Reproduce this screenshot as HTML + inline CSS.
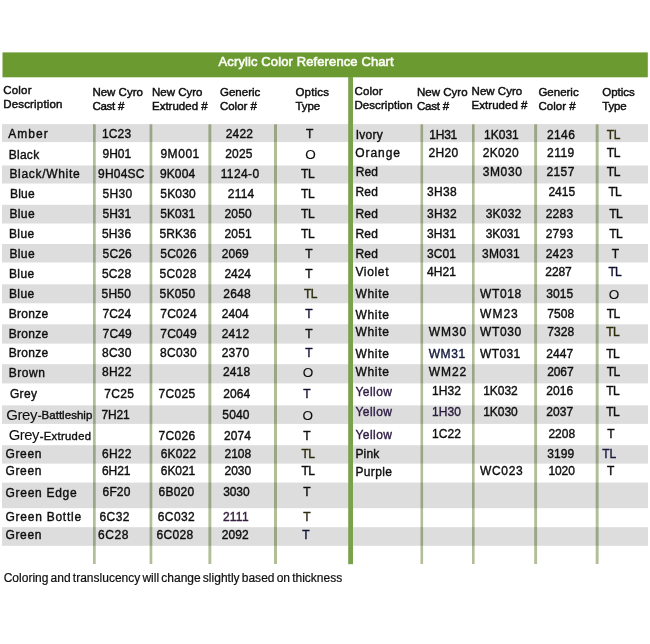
<!DOCTYPE html><html><head><meta charset="utf-8"><title>Acrylic Color Reference Chart</title><style>
html,body{margin:0;padding:0;background:#fff}body{width:650px;height:644px;position:relative;overflow:hidden;font-family:"Liberation Sans", sans-serif;color:#0e0e0e}
.t{position:absolute}.t{white-space:nowrap;line-height:1;margin:0;-webkit-text-stroke:0.38px currentColor}
#w{position:absolute;left:0;top:0;width:650px;height:644px;filter:blur(0.4px)}
</style></head><body><div id="w">
<svg width="650" height="644" viewBox="0 0 650 644" style="position:absolute;left:0;top:0">
<rect x="2.5" y="52.4" width="645.3" height="24.9" fill="#6b9a30"/>
<g fill="#dddddd">
<rect x="2" y="124.1" width="646" height="18.0"/>
<rect x="2" y="165.5" width="646" height="18.0"/>
<rect x="2" y="204.8" width="646" height="18.7"/>
<rect x="2" y="244" width="646" height="18.5"/>
<rect x="2" y="284.3" width="646" height="19.0"/>
<rect x="2" y="324.3" width="646" height="19.3"/>
<rect x="2" y="364.2" width="646" height="19.2"/>
<rect x="2" y="405.4" width="646" height="18.5"/>
<rect x="2" y="445.2" width="646" height="18.4"/>
<rect x="2" y="482.6" width="646" height="25.6"/>
<rect x="2" y="527.2" width="646" height="18.6"/>
</g>
<g fill="#b1be98" style="mix-blend-mode:multiply">
<rect x="93" y="124.3" width="2.7" height="439.7"/>
<rect x="149.6" y="124.3" width="2.7" height="439.7"/>
<rect x="208.4" y="124.3" width="2.9" height="439.7"/>
<rect x="274" y="124.3" width="3.0" height="439.7"/>
<rect x="420.5" y="124.3" width="2.6" height="439.7"/>
<rect x="472" y="124.3" width="2.6" height="439.7"/>
<rect x="534.2" y="124.3" width="2.9" height="439.7"/>
<rect x="595.7" y="124.3" width="2.9" height="439.7"/>
</g>
<rect x="348.2" y="77" width="4.8" height="487.2" fill="#79a24c"/>
</svg>
<div class="t" id="i0" style="top:54.85px;font-size:13px;color:#fbfcf6;-webkit-text-stroke-width:0.6px;letter-spacing:0.11px;left:218.6px;">Acrylic Color Reference Chart</div>
<div class="t" id="i1" style="top:84.98px;font-size:11.5px;-webkit-text-stroke-width:0.45px;letter-spacing:0.20px;left:3.2px;">Color</div>
<div class="t" id="i2" style="top:99.18px;font-size:11.5px;-webkit-text-stroke-width:0.45px;letter-spacing:0.18px;left:3.2px;">Description</div>
<div class="t" id="i3" style="top:86.68px;font-size:11.5px;-webkit-text-stroke-width:0.45px;left:92.4px;">New Cyro</div>
<div class="t" id="i4" style="top:100.78px;font-size:11.5px;-webkit-text-stroke-width:0.45px;letter-spacing:-0.26px;left:92.4px;">Cast #</div>
<div class="t" id="i5" style="top:86.68px;font-size:11.5px;-webkit-text-stroke-width:0.45px;left:152.0px;">New Cyro</div>
<div class="t" id="i6" style="top:100.78px;font-size:11.5px;-webkit-text-stroke-width:0.45px;left:152.0px;">Extruded #</div>
<div class="t" id="i7" style="top:86.68px;font-size:11.5px;-webkit-text-stroke-width:0.45px;left:220.0px;">Generic</div>
<div class="t" id="i8" style="top:100.78px;font-size:11.5px;-webkit-text-stroke-width:0.45px;letter-spacing:-0.04px;left:220.0px;">Color #</div>
<div class="t" id="i9" style="top:86.88px;font-size:11.5px;-webkit-text-stroke-width:0.45px;letter-spacing:0.16px;left:295.5px;">Optics</div>
<div class="t" id="i10" style="top:100.98px;font-size:11.5px;-webkit-text-stroke-width:0.45px;letter-spacing:-0.12px;left:295.5px;">Type</div>
<div class="t" id="i11" style="top:85.78px;font-size:11.5px;-webkit-text-stroke-width:0.45px;letter-spacing:0.20px;left:354.4px;">Color</div>
<div class="t" id="i12" style="top:100.18px;font-size:11.5px;-webkit-text-stroke-width:0.45px;letter-spacing:0.08px;left:354.4px;">Description</div>
<div class="t" id="i13" style="top:87.08px;font-size:11.5px;-webkit-text-stroke-width:0.45px;letter-spacing:0.03px;left:416.9px;">New Cyro</div>
<div class="t" id="i14" style="top:100.98px;font-size:11.5px;-webkit-text-stroke-width:0.45px;letter-spacing:-0.21px;left:416.9px;">Cast #</div>
<div class="t" id="i15" style="top:85.78px;font-size:11.5px;-webkit-text-stroke-width:0.45px;letter-spacing:0.02px;left:471.6px;">New Cyro</div>
<div class="t" id="i16" style="top:99.68px;font-size:11.5px;-webkit-text-stroke-width:0.45px;letter-spacing:0.03px;left:471.6px;">Extruded #</div>
<div class="t" id="i17" style="top:86.68px;font-size:11.5px;-webkit-text-stroke-width:0.45px;left:538.4px;">Generic</div>
<div class="t" id="i18" style="top:100.58px;font-size:11.5px;-webkit-text-stroke-width:0.45px;letter-spacing:0.03px;left:538.4px;">Color #</div>
<div class="t" id="i19" style="top:87.28px;font-size:11.5px;-webkit-text-stroke-width:0.45px;letter-spacing:-0.02px;left:602.3px;">Optics</div>
<div class="t" id="i20" style="top:101.38px;font-size:11.5px;-webkit-text-stroke-width:0.45px;letter-spacing:-0.21px;left:602.3px;">Type</div>
<div class="t" id="i21" style="top:128.44px;font-size:12px;letter-spacing:1.08px;left:8.2px;">Amber</div>
<div class="t" id="i22" style="top:128.14px;font-size:12px;letter-spacing:0.17px;left:101.9px;">1C23</div>
<div class="t" id="i23" style="top:128.14px;font-size:12px;letter-spacing:0.17px;left:225.7px;">2422</div>
<div class="t" id="i24" style="top:128.14px;font-size:12px;left:289.7px;width:40px;text-align:center;">T</div>
<div class="t" id="i25" style="top:148.74px;font-size:12px;letter-spacing:0.28px;left:8.7px;">Black</div>
<div class="t" id="i26" style="top:148.44px;font-size:12px;letter-spacing:-0.03px;left:102.6px;">9H01</div>
<div class="t" id="i27" style="top:148.44px;font-size:12px;letter-spacing:0.55px;left:160.4px;">9M001</div>
<div class="t" id="i28" style="top:148.44px;font-size:12px;letter-spacing:0.17px;left:225.2px;">2025</div>
<div class="t" id="i29" style="top:147.81px;font-size:13.5px;-webkit-text-stroke-width:0.12px;left:290.4px;width:40px;text-align:center;">O</div>
<div class="t" id="i30" style="top:168.14px;font-size:12px;letter-spacing:0.69px;left:9.4px;">Black/White</div>
<div class="t" id="i31" style="top:167.84px;font-size:12px;letter-spacing:0.21px;left:98.1px;">9H04SC</div>
<div class="t" id="i32" style="top:167.84px;font-size:12px;letter-spacing:0.13px;left:159.9px;">9K004</div>
<div class="t" id="i33" style="top:167.84px;font-size:12px;letter-spacing:0.38px;left:220.7px;">1124-0</div>
<div class="t" id="i34" style="top:167.84px;font-size:12px;letter-spacing:-0.28px;left:300.9px;">TL</div>
<div class="t" id="i35" style="top:188.44px;font-size:12px;letter-spacing:0.25px;left:9.9px;">Blue</div>
<div class="t" id="i36" style="top:188.14px;font-size:12px;letter-spacing:0.26px;left:102.6px;">5H30</div>
<div class="t" id="i37" style="top:188.14px;font-size:12px;letter-spacing:0.20px;left:160.3px;">5K030</div>
<div class="t" id="i38" style="top:188.14px;font-size:12px;letter-spacing:0.20px;left:227.8px;">2114</div>
<div class="t" id="i39" style="top:188.14px;font-size:12px;letter-spacing:-0.28px;left:300.9px;">TL</div>
<div class="t" id="i40" style="top:207.94px;font-size:12px;letter-spacing:0.39px;left:9.4px;">Blue</div>
<div class="t" id="i41" style="top:207.64px;font-size:12px;letter-spacing:-0.03px;left:102.6px;">5H31</div>
<div class="t" id="i42" style="top:207.64px;font-size:12px;letter-spacing:0.09px;left:160.2px;">5K031</div>
<div class="t" id="i43" style="top:207.64px;font-size:12px;letter-spacing:0.17px;left:224.5px;">2050</div>
<div class="t" id="i44" style="top:207.64px;font-size:12px;letter-spacing:-0.28px;left:300.9px;">TL</div>
<div class="t" id="i45" style="top:227.84px;font-size:12px;letter-spacing:0.42px;left:8.9px;">Blue</div>
<div class="t" id="i46" style="top:227.54px;font-size:12px;letter-spacing:0.17px;left:101.9px;">5H36</div>
<div class="t" id="i47" style="top:227.54px;font-size:12px;letter-spacing:0.04px;left:159.6px;">5RK36</div>
<div class="t" id="i48" style="top:227.54px;font-size:12px;letter-spacing:0.17px;left:224.5px;">2051</div>
<div class="t" id="i49" style="top:227.54px;font-size:12px;letter-spacing:-0.28px;left:300.9px;">TL</div>
<div class="t" id="i50" style="top:248.24px;font-size:12px;letter-spacing:0.39px;left:9.4px;">Blue</div>
<div class="t" id="i51" style="top:247.94px;font-size:12px;letter-spacing:0.12px;left:102.6px;">5C26</div>
<div class="t" id="i52" style="top:247.94px;font-size:12px;letter-spacing:0.27px;left:160.2px;">5C026</div>
<div class="t" id="i53" style="top:247.94px;font-size:12px;letter-spacing:0.08px;left:221.7px;">2069</div>
<div class="t" id="i54" style="top:247.94px;font-size:12px;left:289.0px;width:40px;text-align:center;">T</div>
<div class="t" id="i55" style="top:268.14px;font-size:12px;letter-spacing:0.42px;left:8.9px;">Blue</div>
<div class="t" id="i56" style="top:267.84px;font-size:12px;letter-spacing:0.17px;left:101.9px;">5C28</div>
<div class="t" id="i57" style="top:267.84px;font-size:12px;letter-spacing:0.34px;left:159.6px;">5C028</div>
<div class="t" id="i58" style="top:267.84px;font-size:12px;letter-spacing:-0.09px;left:224.5px;">2424</div>
<div class="t" id="i59" style="top:267.84px;font-size:12px;left:289.0px;width:40px;text-align:center;">T</div>
<div class="t" id="i60" style="top:288.24px;font-size:12px;letter-spacing:0.42px;left:8.9px;">Blue</div>
<div class="t" id="i61" style="top:287.94px;font-size:12px;letter-spacing:0.32px;left:101.4px;">5H50</div>
<div class="t" id="i62" style="top:287.94px;font-size:12px;letter-spacing:0.22px;left:159.6px;">5K050</div>
<div class="t" id="i63" style="top:287.94px;font-size:12px;letter-spacing:0.28px;left:223.2px;">2648</div>
<div class="t" id="i64" style="top:287.94px;font-size:12px;color:#2c2c0c;letter-spacing:-0.68px;left:304.0px;">TL</div>
<div class="t" id="i65" style="top:307.84px;font-size:12px;letter-spacing:0.30px;left:8.7px;">Bronze</div>
<div class="t" id="i66" style="top:307.54px;font-size:12px;letter-spacing:-0.03px;left:102.6px;">7C24</div>
<div class="t" id="i67" style="top:307.54px;font-size:12px;letter-spacing:0.27px;left:160.2px;">7C024</div>
<div class="t" id="i68" style="top:307.54px;font-size:12px;letter-spacing:0.08px;left:221.7px;">2404</div>
<div class="t" id="i69" style="top:307.54px;font-size:12px;color:#131334;left:289.0px;width:40px;text-align:center;">T</div>
<div class="t" id="i70" style="top:328.44px;font-size:12px;letter-spacing:0.30px;left:8.7px;">Bronze</div>
<div class="t" id="i71" style="top:328.14px;font-size:12px;letter-spacing:0.12px;left:102.6px;">7C49</div>
<div class="t" id="i72" style="top:328.14px;font-size:12px;letter-spacing:0.27px;left:160.2px;">7C049</div>
<div class="t" id="i73" style="top:328.14px;font-size:12px;letter-spacing:0.26px;left:221.7px;">2412</div>
<div class="t" id="i74" style="top:328.14px;font-size:12px;left:289.0px;width:40px;text-align:center;">T</div>
<div class="t" id="i75" style="top:347.24px;font-size:12px;letter-spacing:0.30px;left:8.7px;">Bronze</div>
<div class="t" id="i76" style="top:346.94px;font-size:12px;letter-spacing:0.32px;left:101.9px;">8C30</div>
<div class="t" id="i77" style="top:346.94px;font-size:12px;letter-spacing:0.34px;left:159.9px;">8C030</div>
<div class="t" id="i78" style="top:346.94px;font-size:12px;letter-spacing:0.26px;left:221.7px;">2370</div>
<div class="t" id="i79" style="top:346.94px;font-size:12px;color:#131334;left:289.0px;width:40px;text-align:center;">T</div>
<div class="t" id="i80" style="top:366.64px;font-size:12px;letter-spacing:0.55px;left:8.7px;">Brown</div>
<div class="t" id="i81" style="top:366.34px;font-size:12px;letter-spacing:0.32px;left:101.9px;">8H22</div>
<div class="t" id="i82" style="top:366.34px;font-size:12px;letter-spacing:0.17px;left:222.9px;">2418</div>
<div class="t" id="i83" style="top:365.71px;font-size:13.5px;-webkit-text-stroke-width:0.12px;left:288.0px;width:40px;text-align:center;">O</div>
<div class="t" id="i84" style="top:388.04px;font-size:12px;letter-spacing:0.40px;left:9.9px;">Grey</div>
<div class="t" id="i85" style="top:387.74px;font-size:12px;letter-spacing:0.35px;left:104.3px;">7C25</div>
<div class="t" id="i86" style="top:387.74px;font-size:12px;letter-spacing:0.29px;left:158.6px;">7C025</div>
<div class="t" id="i87" style="top:387.74px;font-size:12px;letter-spacing:0.08px;left:223.2px;">2064</div>
<div class="t" id="i88" style="top:387.74px;font-size:12px;color:#141434;left:287.0px;width:40px;text-align:center;">T</div>
<div class="t" id="i89" style="top:409.14px;font-size:12px;letter-spacing:-0.11px;left:101.4px;">7H21</div>
<div class="t" id="i90" style="top:409.14px;font-size:12px;letter-spacing:0.17px;left:222.3px;">5040</div>
<div class="t" id="i91" style="top:408.51px;font-size:13.5px;-webkit-text-stroke-width:0.12px;left:287.7px;width:40px;text-align:center;">O</div>
<div class="t" id="i92" style="top:429.84px;font-size:12px;letter-spacing:0.29px;left:158.6px;">7C026</div>
<div class="t" id="i93" style="top:429.84px;font-size:12px;letter-spacing:0.08px;left:223.9px;">2074</div>
<div class="t" id="i94" style="top:429.84px;font-size:12px;left:287.0px;width:40px;text-align:center;">T</div>
<div class="t" id="i95" style="top:448.24px;font-size:12px;letter-spacing:0.63px;left:5.5px;">Green</div>
<div class="t" id="i96" style="top:447.94px;font-size:12px;letter-spacing:0.32px;left:101.9px;">6H22</div>
<div class="t" id="i97" style="top:447.94px;font-size:12px;letter-spacing:0.09px;left:160.8px;">6K022</div>
<div class="t" id="i98" style="top:447.94px;font-size:12px;left:224.5px;">2108</div>
<div class="t" id="i99" style="top:447.94px;font-size:12px;color:#2c2c0c;letter-spacing:-0.68px;left:301.5px;">TL</div>
<div class="t" id="i100" style="top:465.14px;font-size:12px;letter-spacing:0.63px;left:5.5px;">Green</div>
<div class="t" id="i101" style="top:464.84px;font-size:12px;letter-spacing:-0.05px;left:101.9px;">6H21</div>
<div class="t" id="i102" style="top:464.84px;font-size:12px;letter-spacing:-0.05px;left:160.8px;">6K021</div>
<div class="t" id="i103" style="top:464.84px;font-size:12px;left:224.5px;">2030</div>
<div class="t" id="i104" style="top:464.84px;font-size:12px;letter-spacing:-0.68px;left:301.5px;">TL</div>
<div class="t" id="i105" style="top:486.74px;font-size:12px;letter-spacing:0.71px;left:5.5px;">Green Edge</div>
<div class="t" id="i106" style="top:486.44px;font-size:12px;letter-spacing:0.13px;left:102.6px;">6F20</div>
<div class="t" id="i107" style="top:486.44px;font-size:12px;letter-spacing:0.22px;left:158.6px;">6B020</div>
<div class="t" id="i108" style="top:486.44px;font-size:12px;letter-spacing:-0.09px;left:223.2px;">3030</div>
<div class="t" id="i109" style="top:486.44px;font-size:12px;left:286.8px;width:40px;text-align:center;">T</div>
<div class="t" id="i110" style="top:510.94px;font-size:12px;letter-spacing:0.75px;left:5.5px;">Green Bottle</div>
<div class="t" id="i111" style="top:510.64px;font-size:12px;letter-spacing:0.46px;left:99.4px;">6C32</div>
<div class="t" id="i112" style="top:510.64px;font-size:12px;letter-spacing:0.43px;left:157.7px;">6C032</div>
<div class="t" id="i113" style="top:510.64px;font-size:12px;color:#36203f;letter-spacing:0.25px;left:222.9px;">2111</div>
<div class="t" id="i114" style="top:510.64px;font-size:12px;color:#2e2e0e;left:286.8px;width:40px;text-align:center;">T</div>
<div class="t" id="i115" style="top:529.24px;font-size:12px;letter-spacing:0.63px;left:5.5px;">Green</div>
<div class="t" id="i116" style="top:528.94px;font-size:12px;letter-spacing:0.55px;left:98.1px;">6C28</div>
<div class="t" id="i117" style="top:528.94px;font-size:12px;letter-spacing:0.34px;left:156.5px;">6C028</div>
<div class="t" id="i118" style="top:528.94px;font-size:12px;letter-spacing:0.08px;left:221.7px;">2092</div>
<div class="t" id="i119" style="top:528.94px;font-size:12px;color:#121236;left:286.0px;width:40px;text-align:center;">T</div>
<div class="t" id="i120" style="top:407.30px;font-size:15px;-webkit-text-stroke-width:0.05px;letter-spacing:-0.43px;left:6.2px;">Grey</div>
<div class="t" id="i121" style="top:410.27px;font-size:11.5px;letter-spacing:0.03px;left:37.7px;">-Battleship</div>
<div class="t" id="i122" style="top:427.77px;font-size:14.8px;-webkit-text-stroke-width:0.05px;letter-spacing:-0.48px;left:8.8px;">Grey</div>
<div class="t" id="i123" style="top:430.82px;font-size:11.2px;letter-spacing:0.34px;left:39.7px;">-Extruded</div>
<div class="t" id="i124" style="top:128.84px;font-size:12px;letter-spacing:0.29px;left:355.7px;">Ivory</div>
<div class="t" id="i125" style="top:128.54px;font-size:12px;letter-spacing:-0.25px;left:429.3px;">1H31</div>
<div class="t" id="i126" style="top:128.54px;font-size:12px;letter-spacing:0.02px;left:484.0px;">1K031</div>
<div class="t" id="i127" style="top:128.54px;font-size:12px;letter-spacing:0.34px;left:547.1px;">2146</div>
<div class="t" id="i128" style="top:128.54px;font-size:12px;color:#303010;letter-spacing:-0.28px;left:606.8px;">TL</div>
<div class="t" id="i129" style="top:147.44px;font-size:12px;letter-spacing:0.94px;left:355.2px;">Orange</div>
<div class="t" id="i130" style="top:147.14px;font-size:12px;letter-spacing:0.32px;left:428.6px;">2H20</div>
<div class="t" id="i131" style="top:147.14px;font-size:12px;letter-spacing:0.35px;left:482.7px;">2K020</div>
<div class="t" id="i132" style="top:147.14px;font-size:12px;letter-spacing:0.45px;left:547.1px;">2119</div>
<div class="t" id="i133" style="top:147.14px;font-size:12px;letter-spacing:-0.28px;left:606.8px;">TL</div>
<div class="t" id="i134" style="top:166.14px;font-size:12px;letter-spacing:0.11px;left:355.7px;">Red</div>
<div class="t" id="i135" style="top:165.84px;font-size:12px;letter-spacing:0.62px;left:482.7px;">3M030</div>
<div class="t" id="i136" style="top:165.84px;font-size:12px;letter-spacing:0.34px;left:546.6px;">2157</div>
<div class="t" id="i137" style="top:165.84px;font-size:12px;letter-spacing:-0.28px;left:606.8px;">TL</div>
<div class="t" id="i138" style="top:186.24px;font-size:12px;letter-spacing:0.23px;left:355.4px;">Red</div>
<div class="t" id="i139" style="top:185.94px;font-size:12px;letter-spacing:0.32px;left:427.0px;">3H38</div>
<div class="t" id="i140" style="top:185.94px;font-size:12px;letter-spacing:0.03px;left:548.4px;">2415</div>
<div class="t" id="i141" style="top:185.94px;font-size:12px;letter-spacing:-0.68px;left:608.4px;">TL</div>
<div class="t" id="i142" style="top:207.84px;font-size:12px;letter-spacing:0.23px;left:355.4px;">Red</div>
<div class="t" id="i143" style="top:207.54px;font-size:12px;letter-spacing:0.32px;left:427.0px;">3H32</div>
<div class="t" id="i144" style="top:207.54px;font-size:12px;letter-spacing:0.22px;left:485.7px;">3K032</div>
<div class="t" id="i145" style="top:207.54px;font-size:12px;letter-spacing:0.26px;left:545.7px;">2283</div>
<div class="t" id="i146" style="top:207.54px;font-size:12px;letter-spacing:-0.61px;left:609.3px;">TL</div>
<div class="t" id="i147" style="top:227.94px;font-size:12px;letter-spacing:0.23px;left:355.4px;">Red</div>
<div class="t" id="i148" style="top:227.64px;font-size:12px;letter-spacing:0.09px;left:427.0px;">3H31</div>
<div class="t" id="i149" style="top:227.64px;font-size:12px;letter-spacing:-0.11px;left:485.7px;">3K031</div>
<div class="t" id="i150" style="top:227.64px;font-size:12px;letter-spacing:0.26px;left:545.7px;">2793</div>
<div class="t" id="i151" style="top:227.64px;font-size:12px;letter-spacing:-0.61px;left:609.3px;">TL</div>
<div class="t" id="i152" style="top:248.14px;font-size:12px;letter-spacing:0.23px;left:355.4px;">Red</div>
<div class="t" id="i153" style="top:247.84px;font-size:12px;letter-spacing:0.09px;left:427.0px;">3C01</div>
<div class="t" id="i154" style="top:247.84px;font-size:12px;letter-spacing:0.27px;left:482.0px;">3M031</div>
<div class="t" id="i155" style="top:247.84px;font-size:12px;letter-spacing:0.26px;left:545.7px;">2423</div>
<div class="t" id="i156" style="top:247.84px;font-size:12px;left:595.5px;width:40px;text-align:center;">T</div>
<div class="t" id="i157" style="top:265.94px;font-size:12px;letter-spacing:0.67px;left:355.4px;">Violet</div>
<div class="t" id="i158" style="top:265.64px;font-size:12px;letter-spacing:0.09px;left:427.0px;">4H21</div>
<div class="t" id="i159" style="top:265.64px;font-size:12px;letter-spacing:-0.09px;left:545.3px;">2287</div>
<div class="t" id="i160" style="top:265.64px;font-size:12px;color:#121230;letter-spacing:-0.68px;left:608.4px;">TL</div>
<div class="t" id="i161" style="top:288.44px;font-size:12px;letter-spacing:0.69px;left:355.4px;">White</div>
<div class="t" id="i162" style="top:288.14px;font-size:12px;letter-spacing:0.58px;left:480.1px;">WT018</div>
<div class="t" id="i163" style="top:288.14px;font-size:12px;letter-spacing:0.08px;left:546.3px;">3015</div>
<div class="t" id="i164" style="top:287.51px;font-size:13.5px;-webkit-text-stroke-width:0.12px;left:594.0px;width:40px;text-align:center;">O</div>
<div class="t" id="i165" style="top:308.64px;font-size:12px;letter-spacing:0.69px;left:355.4px;">White</div>
<div class="t" id="i166" style="top:308.34px;font-size:12px;letter-spacing:1.01px;left:480.1px;">WM23</div>
<div class="t" id="i167" style="top:308.34px;font-size:12px;letter-spacing:0.08px;left:547.2px;">7508</div>
<div class="t" id="i168" style="top:308.34px;font-size:12px;letter-spacing:-0.61px;left:606.8px;">TL</div>
<div class="t" id="i169" style="top:325.94px;font-size:12px;letter-spacing:0.69px;left:355.4px;">White</div>
<div class="t" id="i170" style="top:325.64px;font-size:12px;letter-spacing:0.95px;left:428.7px;">WM30</div>
<div class="t" id="i171" style="top:325.64px;font-size:12px;letter-spacing:0.58px;left:480.1px;">WT030</div>
<div class="t" id="i172" style="top:325.64px;font-size:12px;letter-spacing:0.08px;left:547.2px;">7328</div>
<div class="t" id="i173" style="top:325.64px;font-size:12px;color:#2c2c0c;letter-spacing:-0.61px;left:606.2px;">TL</div>
<div class="t" id="i174" style="top:348.44px;font-size:12px;letter-spacing:0.69px;left:355.4px;">White</div>
<div class="t" id="i175" style="top:348.14px;font-size:12px;color:#141a3c;letter-spacing:0.61px;left:428.7px;">WM31</div>
<div class="t" id="i176" style="top:348.14px;font-size:12px;letter-spacing:0.38px;left:480.1px;">WT031</div>
<div class="t" id="i177" style="top:348.14px;font-size:12px;letter-spacing:0.08px;left:546.3px;">2447</div>
<div class="t" id="i178" style="top:348.14px;font-size:12px;letter-spacing:-0.61px;left:606.2px;">TL</div>
<div class="t" id="i179" style="top:365.84px;font-size:12px;letter-spacing:0.69px;left:355.4px;">White</div>
<div class="t" id="i180" style="top:365.54px;font-size:12px;letter-spacing:0.95px;left:428.7px;">WM22</div>
<div class="t" id="i181" style="top:365.54px;font-size:12px;letter-spacing:-0.09px;left:547.2px;">2067</div>
<div class="t" id="i182" style="top:365.54px;font-size:12px;letter-spacing:-0.61px;left:606.8px;">TL</div>
<div class="t" id="i183" style="top:385.54px;font-size:12px;color:#2e1c44;letter-spacing:0.46px;left:355.4px;">Yellow</div>
<div class="t" id="i184" style="top:385.24px;font-size:12px;letter-spacing:0.12px;left:431.9px;">1H32</div>
<div class="t" id="i185" style="top:385.24px;font-size:12px;letter-spacing:-0.05px;left:483.2px;">1K032</div>
<div class="t" id="i186" style="top:385.24px;font-size:12px;letter-spacing:0.08px;left:546.3px;">2016</div>
<div class="t" id="i187" style="top:385.24px;font-size:12px;letter-spacing:-0.61px;left:606.2px;">TL</div>
<div class="t" id="i188" style="top:406.24px;font-size:12px;color:#2e1c44;letter-spacing:0.46px;left:355.4px;">Yellow</div>
<div class="t" id="i189" style="top:405.94px;font-size:12px;color:#2a1b3e;letter-spacing:0.12px;left:431.9px;">1H30</div>
<div class="t" id="i190" style="top:405.94px;font-size:12px;letter-spacing:-0.05px;left:483.2px;">1K030</div>
<div class="t" id="i191" style="top:405.94px;font-size:12px;letter-spacing:0.08px;left:546.3px;">2037</div>
<div class="t" id="i192" style="top:405.94px;font-size:12px;letter-spacing:-0.61px;left:606.2px;">TL</div>
<div class="t" id="i193" style="top:428.74px;font-size:12px;color:#2e1c44;letter-spacing:0.46px;left:355.4px;">Yellow</div>
<div class="t" id="i194" style="top:428.44px;font-size:12px;letter-spacing:0.12px;left:431.9px;">1C22</div>
<div class="t" id="i195" style="top:428.44px;font-size:12px;letter-spacing:0.03px;left:548.4px;">2208</div>
<div class="t" id="i196" style="top:428.44px;font-size:12px;left:590.9px;width:40px;text-align:center;">T</div>
<div class="t" id="i197" style="top:448.44px;font-size:12px;letter-spacing:0.16px;left:355.4px;">Pink</div>
<div class="t" id="i198" style="top:448.14px;font-size:12px;letter-spacing:0.08px;left:547.2px;">3199</div>
<div class="t" id="i199" style="top:448.14px;font-size:12px;color:#181840;letter-spacing:-0.08px;left:602.2px;">TL</div>
<div class="t" id="i200" style="top:465.74px;font-size:12px;letter-spacing:0.38px;left:355.4px;">Purple</div>
<div class="t" id="i201" style="top:465.44px;font-size:12px;letter-spacing:0.64px;left:480.1px;">WC023</div>
<div class="t" id="i202" style="top:465.44px;font-size:12px;letter-spacing:-0.09px;left:548.4px;">1020</div>
<div class="t" id="i203" style="top:465.44px;font-size:12px;left:590.6px;width:40px;text-align:center;">T</div>
<div class="t" id="i204" style="top:571.64px;font-size:12px;-webkit-text-stroke-width:0.2px;word-spacing:-1.2px;letter-spacing:0.01px;left:3.7px;">Coloring and translucency will change slightly based on thickness</div>
</div></body></html>
